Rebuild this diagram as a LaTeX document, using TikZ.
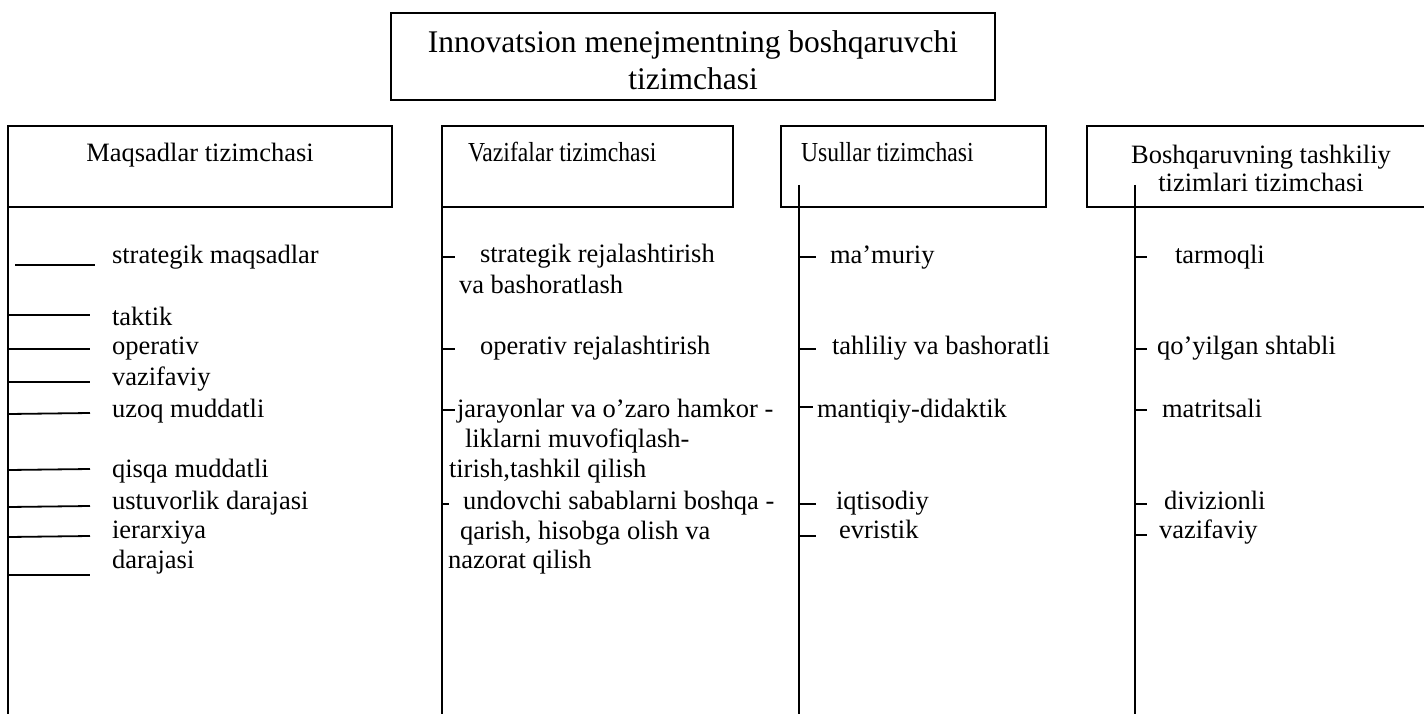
\documentclass[tikz,border=0pt]{standalone}
\usepackage{fontspec}
\setmainfont{Liberation Serif}
\newfontfamily\narrowserif[FakeStretch=0.86]{Liberation Serif}
\begin{document}
\begin{tikzpicture}[x=1pt,y=-1pt,
  frame/.style={draw, line width=2pt, inner sep=0pt, outer sep=0pt},
  rule/.style={line width=2pt},
  tick/.style={line width=1.8pt},
  txt/.style={anchor=base west, inner sep=0pt, outer sep=0pt, font=\fontsize{26.5}{30}\selectfont},
  ctxt/.style={txt, anchor=base},
  ntxt/.style={txt, font=\narrowserif\fontsize{27.5}{30}\selectfont},
  ttl/.style={anchor=base, inner sep=0pt, font=\fontsize{31.5}{37}\selectfont}]
\useasboundingbox (0,0) rectangle (1424,714);

% top box
\node[frame, minimum width=604pt, minimum height=87pt] (top) at (693,56.5) {};
\node[ttl] (top1) at (693,53) {Innovatsion menejmentning boshqaruvchi};
\node[ttl] (top2) at (693,90) {tizimchasi};

% four sub-system boxes
\node[frame, minimum width=384pt, minimum height=81pt] (goals) at (200,166.5) {};
\node[frame, minimum width=291pt, minimum height=81pt] (tasks) at (587.5,166.5) {};
\node[frame, minimum width=265pt, minimum height=81pt] (methods) at (913.5,166.5) {};
\node[frame, minimum width=348pt, minimum height=81pt] (org) at (1261,166.5) {};

\node[ctxt] (goalsT) at (200,162) {Maqsadlar tizimchasi};
\node[ntxt] (tasksT) at (468,162) {Vazifalar tizimchasi};
\node[ntxt] (methodsT) at (801,162) {Usullar tizimchasi};
\node[ctxt] (orgT1) at (1261,164) {Boshqaruvning tashkiliy};
\node[ctxt] (orgT2) at (1261,192) {tizimlari tizimchasi};

% vertical spines
\coordinate (s1t) at (8,207);   \coordinate (s1b) at (8,716);
\coordinate (s2t) at (442,207); \coordinate (s2b) at (442,716);
\coordinate (s3t) at (799,185); \coordinate (s3b) at (799,716);
\coordinate (s4t) at (1135,185);\coordinate (s4b) at (1135,716);
\draw[rule] (s1t) -- (s1b);
\draw[rule] (s2t) -- (s2b);
\draw[rule] (s3t) -- (s3b);
\draw[rule] (s4t) -- (s4b);

% column 1: goals
\draw[tick] (15,265) -- (95,265);
\draw[tick] (9,315) -- (90,315);
\draw[tick] (9,349) -- (90,349);
\draw[tick] (9,382) -- (90,382);
\draw[tick] (9,414) -- (90,413);
\draw[tick] (9,470) -- (90,469);
\draw[tick] (9,507) -- (90,506);
\draw[tick] (9,537) -- (90,536);
\draw[tick] (9,575) -- (90,575);
\node[txt] (g1) at (112,263) {strategik maqsadlar};
\node[txt] (g2) at (112,325) {taktik};
\node[txt] (g3) at (112,354) {operativ};
\node[txt] (g4) at (112,385) {vazifaviy};
\node[txt] (g5) at (112,417) {uzoq muddatli};
\node[txt] (g6) at (112,477) {qisqa muddatli};
\node[txt] (g7) at (112,509) {ustuvorlik darajasi};
\node[txt] (g8) at (112,538) {ierarxiya};
\node[txt] (g9) at (112,568) {darajasi};

% column 2: tasks
\draw[tick] (442,257) -- (455,257);
\draw[tick] (442,349) -- (455,349);
\draw[tick] (442,410) -- (455,410);
\draw[tick] (442,504) -- (449,504);
\node[txt] (t1a) at (480,262) {strategik rejalashtirish};
\node[txt] (t1b) at (459,293) {va bashoratlash};
\node[txt] (t2) at (480,354) {operativ rejalashtirish};
\node[txt] (t3a) at (457,417) {jarayonlar va o’zaro hamkor -};
\node[txt] (t3b) at (465,447) {liklarni muvofiqlash-};
\node[txt] (t3c) at (449,477) {tirish,tashkil qilish};
\node[txt] (t4a) at (463,509) {undovchi sabablarni boshqa -};
\node[txt] (t4b) at (460,539) {qarish, hisobga olish va};
\node[txt] (t4c) at (448,568) {nazorat qilish};

% column 3: methods
\draw[tick] (799,257) -- (816,257);
\draw[tick] (799,349) -- (816,349);
\draw[tick] (799,407) -- (813,407);
\draw[tick] (799,504) -- (816,504);
\draw[tick] (799,536) -- (816,536);
\node[txt] (m1) at (830,263) {ma’muriy};
\node[txt] (m2) at (832,354) {tahliliy va bashoratli};
\node[txt] (m3) at (817,417) {mantiqiy-didaktik};
\node[txt] (m4) at (836,509) {iqtisodiy};
\node[txt] (m5) at (839,538) {evristik};

% column 4: organisational structures
\draw[tick] (1135,257) -- (1147,257);
\draw[tick] (1135,349) -- (1147,349);
\draw[tick] (1135,410) -- (1147,410);
\draw[tick] (1135,504) -- (1147,504);
\draw[tick] (1135,535) -- (1147,535);
\node[txt] (o1) at (1175,263) {tarmoqli};
\node[txt] (o2) at (1157,354) {qo’yilgan shtabli};
\node[txt] (o3) at (1162,417) {matritsali};
\node[txt] (o4) at (1164,509) {divizionli};
\node[txt] (o5) at (1159,538) {vazifaviy};
\end{tikzpicture}
\end{document}
